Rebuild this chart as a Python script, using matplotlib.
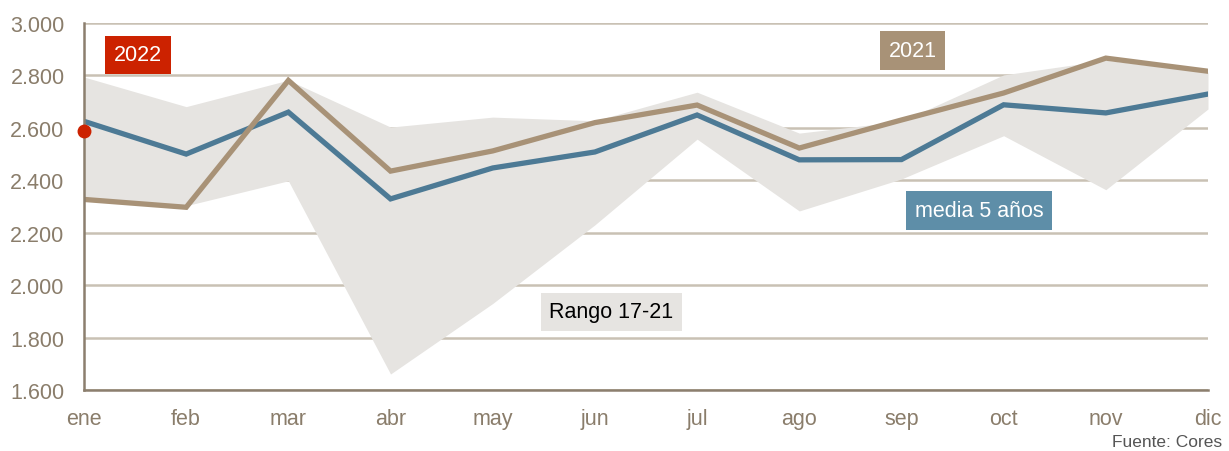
import matplotlib
matplotlib.use("Agg")
import matplotlib.pyplot as plt
from matplotlib.ticker import FuncFormatter, FixedLocator

months = ["ene", "feb", "mar", "abr", "may", "jun", "jul", "ago", "sep", "oct", "nov", "dic"]
media_5 = [2625, 2500, 2660, 2329, 2447, 2508, 2649, 2478, 2479, 2688, 2657, 2729]
y2021 = [2327, 2297, 2781, 2435, 2512, 2620, 2687, 2523, 2630, 2733, 2866, 2816]
rango_max = [2794, 2681, 2782, 2603, 2641, 2627, 2736, 2580, 2625, 2802, 2858, 2812]
rango_min = [2328, 2303, 2398, 1661, 1930, 2230, 2557, 2283, 2405, 2570, 2364, 2672]
y2022 = [2587]
yticks = [1600, 1800, 2000, 2200, 2400, 2600, 2800, 3000]

plt.rcParams['font.family'] = ['Liberation Sans', 'DejaVu Sans']

BROWN = "#a89277"
BLUE = "#4d7a95"
BAND = "#e6e4e1"
RED = "#cc2200"
TICK = "#8a7d6b"
GRID = "#c9c1b4"
SPINE = "#8c7f6e"

fig = plt.figure(figsize=(12.29, 4.52), dpi=100)
ax = fig.add_axes([84/1229, 1 - 391/452, (1208-84)/1229, (391-24)/452])

x = list(range(len(months)))
ax.fill_between(x, rango_min, rango_max, color=BAND, lw=0, zorder=1)
ax.plot(x, media_5, color=BLUE, lw=3.8, zorder=3, solid_joinstyle='miter')
ax.plot(x, y2021, color=BROWN, lw=3.8, zorder=4, solid_joinstyle='miter')
ax.plot([0], y2022, 'o', color=RED, ms=9, zorder=6, clip_on=False)

ax.set_xlim(0, 11)
ax.set_ylim(1600, 3000)
ax.yaxis.set_major_locator(FixedLocator(yticks))
ax.yaxis.set_major_formatter(FuncFormatter(lambda v, p: f"{int(v):,}".replace(",", ".")))
ax.set_xticks(x)
ax.set_xticklabels(months)

ax.grid(axis='y', color=GRID, lw=1.8, zorder=0)
ax.set_axisbelow(True)
for s in ['top', 'right']:
    ax.spines[s].set_visible(False)
for s in ['left', 'bottom']:
    ax.spines[s].set_color(SPINE)
    ax.spines[s].set_linewidth(1.8)
    ax.spines[s].set_zorder(5)
ax.tick_params(axis='both', length=0, labelsize=15.5, labelcolor=TICK)
ax.tick_params(axis='y', pad=14)
ax.tick_params(axis='x', pad=13)

def label(xv, yv, txt, fc, tc):
    ax.text(xv, yv, txt, ha='center', va='center', fontsize=15.5, color=tc, zorder=7,
            bbox=dict(boxstyle='square,pad=0.4', fc=fc, ec='none'))

label(0.53, 2878, "2022", RED, "white")
label(8.11, 2895, "2021", BROWN, "white")
label(8.76, 2285, "media 5 años", "#5e8ea8", "white")
label(5.16, 1899, "Rango 17-21", BAND, "black")

fig.text(1222/1229, 1 - 443/452, "Fuente: Cores", ha='right', va='center', fontsize=12.5, color="#555555")

fig.savefig("out.png", dpi=100)
